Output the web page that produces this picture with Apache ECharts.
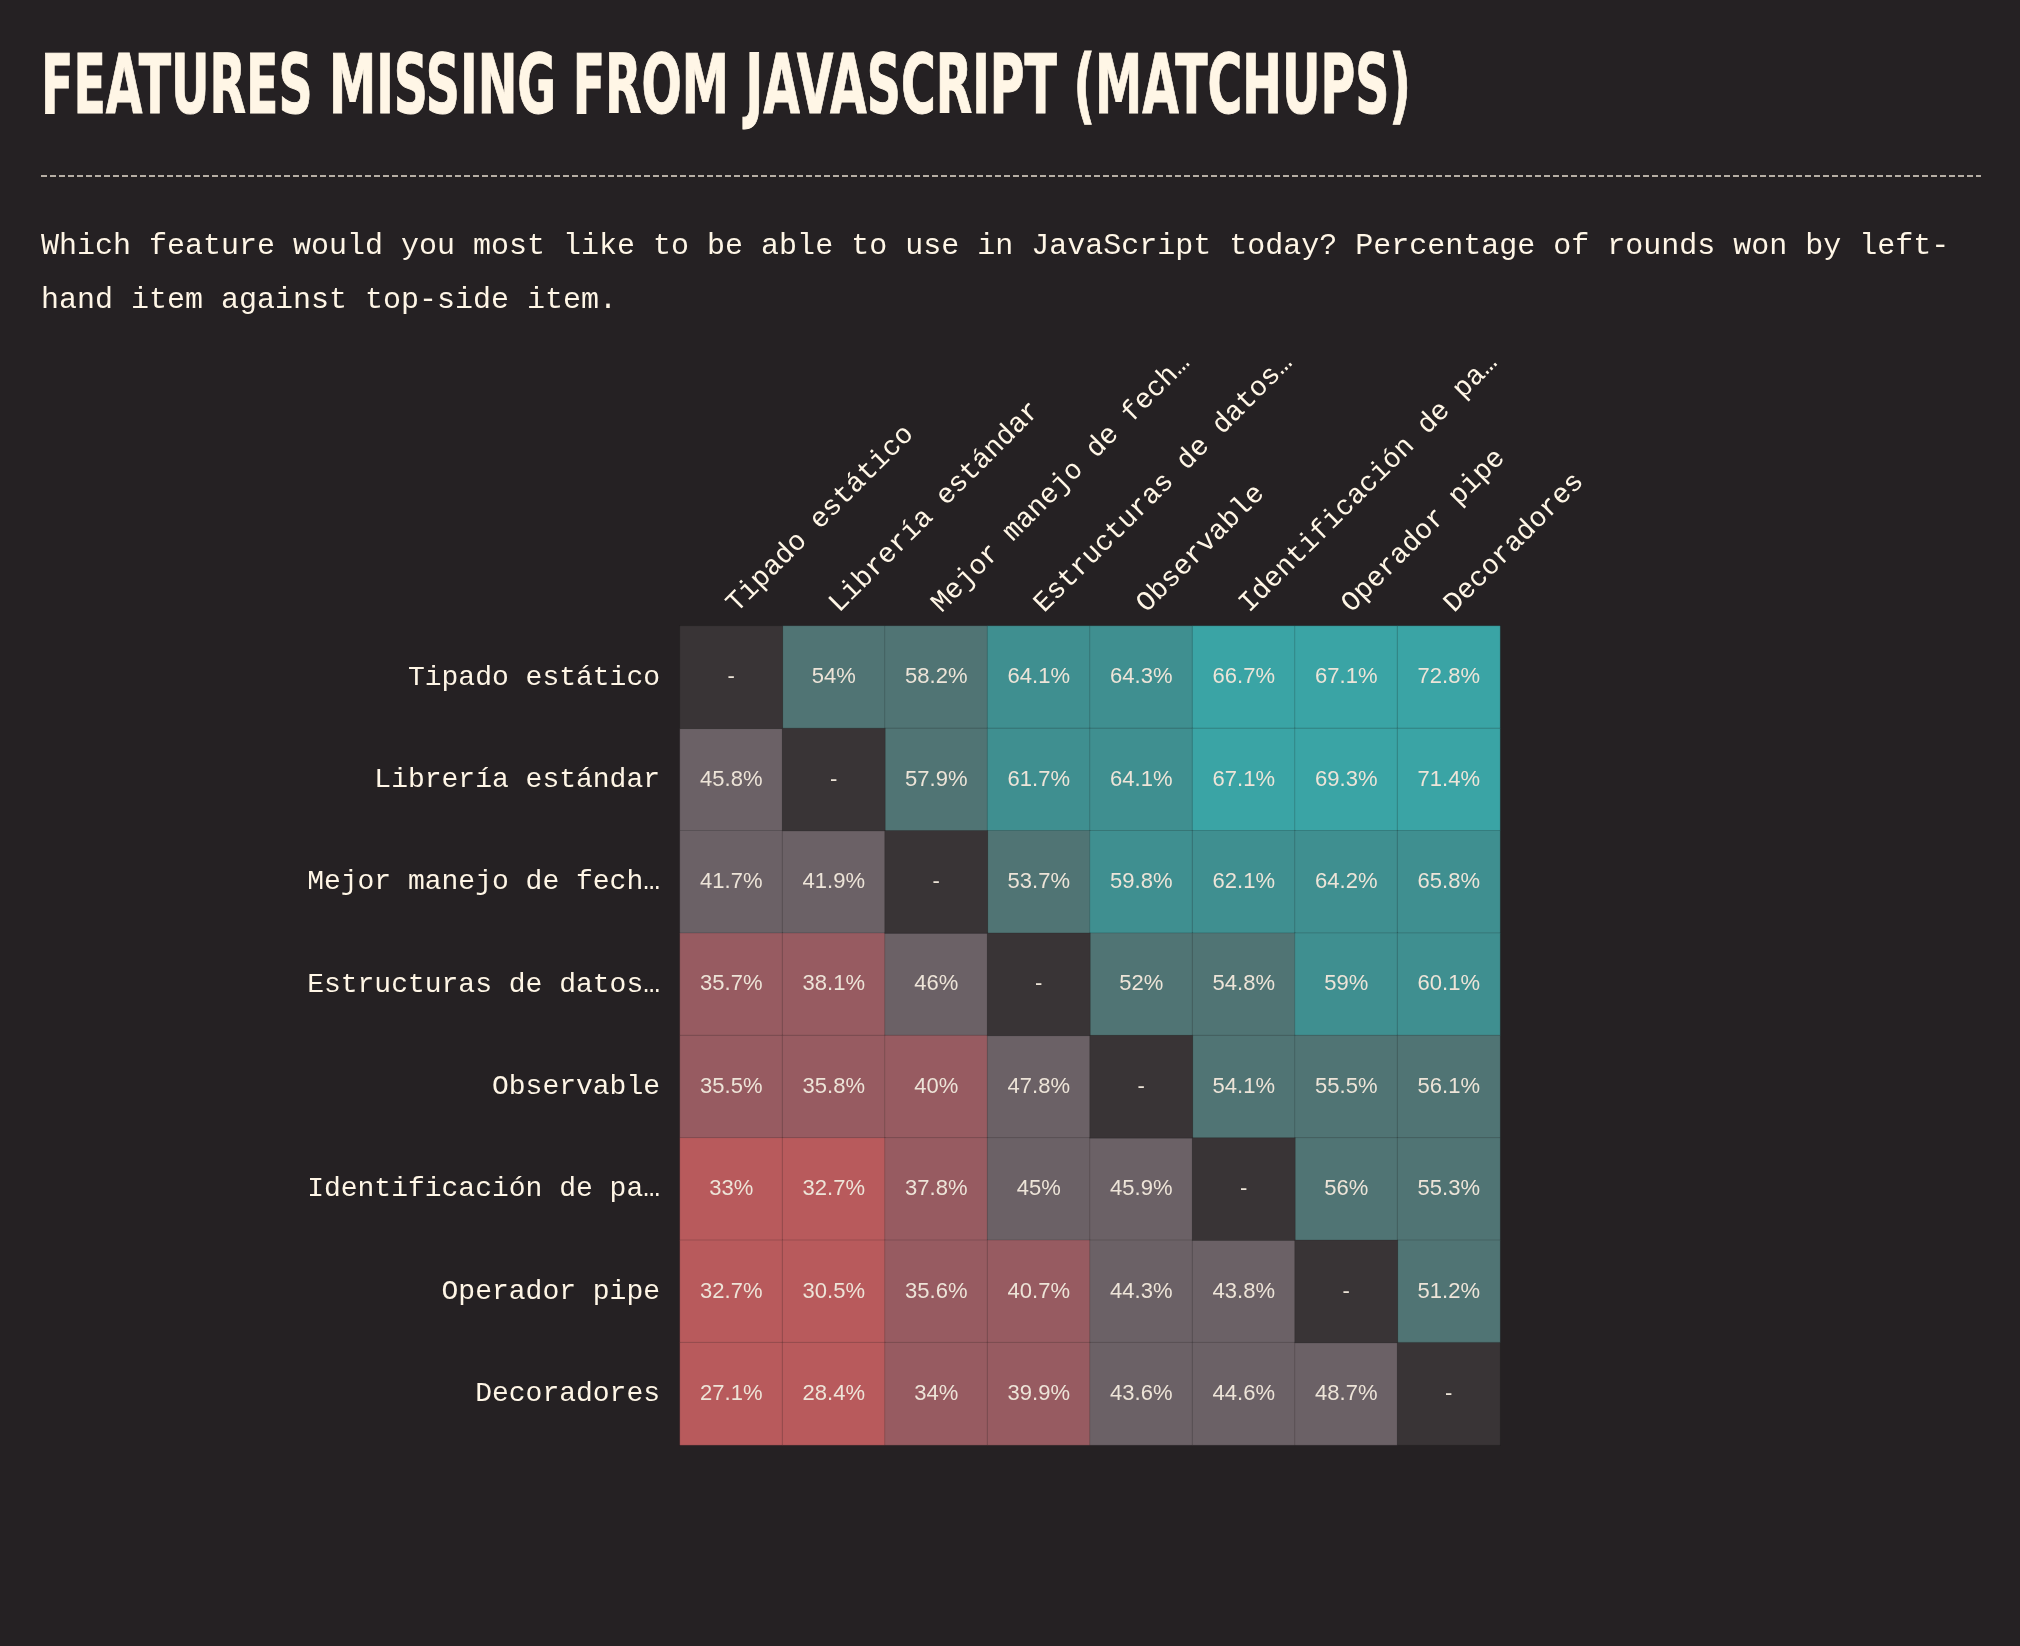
<!DOCTYPE html>
<html>
<head>
<meta charset="utf-8">
<script src="https://cdn.jsdelivr.net/npm/echarts@6/dist/echarts.min.js"></script>
<style>
  html, body { margin: 0; padding: 0; background: #252123; }
  #chart { width: 2020px; height: 1646px; }
</style>
</head>
<body>
<div id="chart"></div>
<script>
// ---- data ----
const features = ["Tipado estático", "Librería estándar", "Mejor manejo de fech…", "Estructuras de datos…", "Observable", "Identificación de pa…", "Operador pipe", "Decoradores"];
// win % of row item (left) against column item (top); null = same item
const rowTipado        = [null, 54, 58.2, 64.1, 64.3, 66.7, 67.1, 72.8];
const rowLibreria      = [45.8, null, 57.9, 61.7, 64.1, 67.1, 69.3, 71.4];
const rowFechas        = [41.7, 41.9, null, 53.7, 59.8, 62.1, 64.2, 65.8];
const rowEstructuras   = [35.7, 38.1, 46, null, 52, 54.8, 59, 60.1];
const rowObservable    = [35.5, 35.8, 40, 47.8, null, 54.1, 55.5, 56.1];
const rowPatrones      = [33, 32.7, 37.8, 45, 45.9, null, 56, 55.3];
const rowPipe          = [32.7, 30.5, 35.6, 40.7, 44.3, 43.8, null, 51.2];
const rowDecoradores   = [27.1, 28.4, 34, 39.9, 43.6, 44.6, 48.7, null];
const titleText = "FEATURES MISSING FROM JAVASCRIPT (MATCHUPS)";
const subtitleText = "Which feature would you most like to be able to use in JavaScript today? Percentage of rounds won by left-\nhand item against top-side item.";

// ---- build ----
const rows = [rowTipado, rowLibreria, rowFechas, rowEstructuras, rowObservable, rowPatrones, rowPipe, rowDecoradores];
const cells = [];
const diag = [];
rows.forEach((r, yi) => r.forEach((v, xi) => {
  if (v === null) diag.push([xi, yi, 0]);
  else cells.push([xi, yi, v]);
}));

const cream = '#fff6e6';
const cellText = '#ede4d8';

// measure title width to compress horizontally like the condensed original font
const titleFont = 'bold 82px "DejaVu Sans"';
const cv = document.createElement('canvas').getContext('2d');
cv.font = titleFont;
const titleW = cv.measureText(titleText).width;
const titleScale = 1370 / titleW;

const chart = echarts.init(document.getElementById('chart'), null, { renderer: 'canvas' });
chart.setOption({
  backgroundColor: '#252123',
  animation: false,
  graphic: [
    {
      type: 'text', x: 41, y: 51, scaleX: titleScale, scaleY: 1,
      style: { text: titleText, font: titleFont, fill: cream, stroke: cream, lineWidth: 1, verticalAlign: 'top', align: 'left' }
    },
    {
      type: 'line', shape: { x1: 41, y1: 176, x2: 1981, y2: 176 },
      style: { stroke: '#e6ddd0', lineWidth: 1.5, lineDash: [6, 3] }
    },
    {
      type: 'text', x: 41, y: 219,
      style: { text: subtitleText, fontFamily: '"Liberation Mono", monospace', fontSize: 30, lineHeight: 54, fill: cream, verticalAlign: 'top' }
    }
  ],
  grid: { left: 680, top: 626, width: 820, height: 819 },
  xAxis: {
    type: 'category', data: features, position: 'top',
    axisLine: { show: false }, axisTick: { show: false }, splitLine: { show: false },
    axisLabel: { interval: 0, rotate: -45, margin: 18, color: cream, fontFamily: '"Liberation Mono", monospace', fontSize: 28 }
  },
  yAxis: {
    type: 'category', data: features, inverse: true,
    axisLine: { show: false }, axisTick: { show: false }, splitLine: { show: false },
    axisLabel: { interval: 0, margin: 20, color: cream, fontFamily: '"Liberation Mono", monospace', fontSize: 28 }
  },
  visualMap: {
    type: 'piecewise', show: false, seriesIndex: 0, dimension: 2,
    pieces: [
      { lt: 33.4, color: '#b85a5c' },
      { gte: 33.4, lt: 41.2, color: '#975b61' },
      { gte: 41.2, lt: 50, color: '#6b6166' },
      { gte: 50, lt: 58.8, color: '#507474' },
      { gte: 58.8, lt: 66.5, color: '#3f8f90' },
      { gte: 66.5, color: '#3aa4a5' }
    ]
  },
  series: [
    {
      type: 'heatmap', data: cells,
      itemStyle: { borderColor: 'rgba(30,26,28,0.18)', borderWidth: 1 },
      label: { show: true, color: cellText, fontFamily: '"Liberation Sans", Arial, sans-serif', fontSize: 22,
        formatter: p => p.value[2] + '%' },
      emphasis: { disabled: true }
    },
    {
      type: 'heatmap', data: diag,
      itemStyle: { color: '#393436', borderColor: 'rgba(30,26,28,0.18)', borderWidth: 1 },
      label: { show: true, color: cellText, fontFamily: '"Liberation Sans", Arial, sans-serif', fontSize: 22, formatter: () => '-' },
      emphasis: { disabled: true }
    }
  ]
});
</script>
</body>
</html>
